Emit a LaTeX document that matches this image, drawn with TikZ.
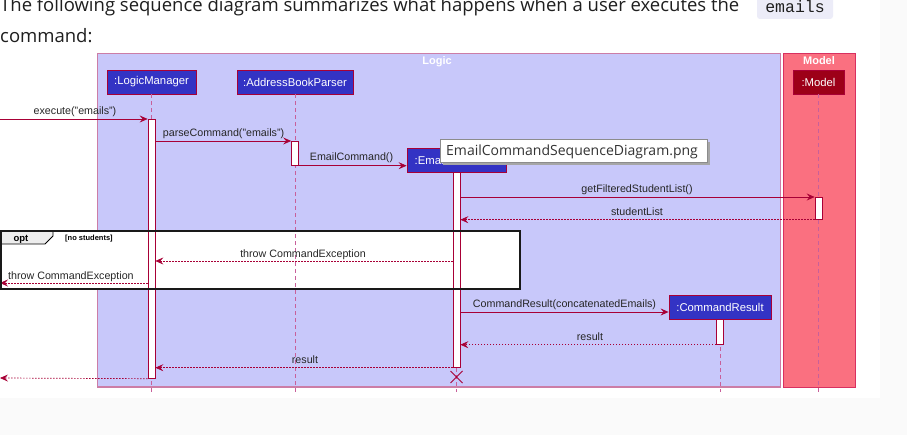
\documentclass[tikz,border=0pt]{standalone}
\usepackage{fontspec}
\setmainfont{Liberation Sans}
\newfontfamily\pagefont{Open Sans}
\newfontfamily\codefont{Liberation Mono}
\usetikzlibrary{arrows.meta}
\definecolor{logicbg}{HTML}{C8C8FA}
\definecolor{logicborder}{HTML}{CC7DA6}
\definecolor{modelbg}{HTML}{FA7080}
\definecolor{modelborder}{HTML}{D83060}
\definecolor{partblue}{HTML}{3333C4}
\definecolor{modeldark}{HTML}{9D0018}
\definecolor{crim}{HTML}{A80036}
\definecolor{lifecol}{HTML}{C8609A}
\definecolor{pagetext}{HTML}{1F1F1F}
\definecolor{codebg}{HTML}{ECECF8}
\tikzset{
  part/.style={draw=crim, line width=0.8pt, fill=partblue, text=white,
    font=\fontsize{11.3}{13}\selectfont, inner sep=0pt, minimum height=24pt},
  act/.style={draw=crim, fill=white, line width=0.7pt, minimum width=7pt, inner sep=0pt, anchor=north},
  lifeline/.style={draw=lifecol, line width=0.9pt, dash pattern=on 4pt off 3pt},
  msg/.style={draw=crim, line width=0.7pt, -{Stealth[length=8pt,width=7pt,inset=3pt]}},
  ret/.style={msg, dash pattern=on 1.5pt off 1.5pt},
  lbl/.style={font=\fontsize{10.7}{12}\selectfont, text=black!85, inner sep=0pt, anchor=base},
  pkgtitle/.style={font=\bfseries\fontsize{11}{12}\selectfont, text=white, inner sep=0pt, anchor=base},
}
\begin{document}
\begin{tikzpicture}[x=1pt,y=-1pt]
\useasboundingbox (0,0) rectangle (907,435);
% page background
\fill[black!2] (0,0) rectangle (907,435);
\fill[white] (0,0) rectangle (880,398);
% page text
\node[font=\pagefont\fontsize{18.5}{22}\selectfont, text=pagetext, anchor=base west, inner sep=0pt] (head1) at (0,12) {The following sequence diagram summarizes what happens when a user executes the};
\fill[codebg, rounded corners=3pt] (757,-6) rectangle (833,19);
\node[font=\codefont\fontsize{16.5}{18}\selectfont, text=pagetext, anchor=base, inner sep=0pt] (code) at (795,12.5) {emails};
\node[font=\pagefont\fontsize{18.5}{22}\selectfont, text=pagetext, anchor=base west, inner sep=0pt] (head2) at (0,42.5) {command:};
% packages
\filldraw[fill=logicbg, draw=logicborder, line width=1pt] (97,54) rectangle (780,387);
\draw[logicborder, line width=1.6pt] (97,387) -- (780,387);
\node[pkgtitle] (logictitle) at (437,65) {Logic};
\filldraw[fill=modelbg, draw=modelborder, line width=1pt] (783,54) rectangle (855,387);
\node[pkgtitle] (modeltitle) at (819,65) {Model};
% opt frame fill
\fill[white] (1,231) rectangle (520,289);
% participants
\node[part, minimum width=89pt] (lm) at (151.5,82) {:LogicManager};
\node[part, minimum width=116pt] (abp) at (295,82) {:AddressBookParser};
\node[part, minimum width=51pt, fill=modeldark] (mod) at (818.5,82) {:Model};
\node[part, minimum width=99pt] (ec) at (456.5,160) {:EmailCommand};
\node[part, minimum width=102pt] (cr) at (720,307) {:CommandResult};
% lifelines
\coordinate (lmend) at (151.5,392);
\coordinate (abpend) at (295,392);
\coordinate (modend) at (818.5,392);
\coordinate (ecend) at (456.5,392);
\coordinate (crend) at (720,392);
\draw[lifeline] (lm.south) -- (lmend);
\draw[lifeline] (abp.south) -- (abpend);
\draw[lifeline] (mod.south) -- (modend);
\draw[lifeline] (ec.south) -- (ecend);
\draw[lifeline] (cr.south) -- (crend);
% activations
\node[act, minimum height=259pt] (lmact) at (151.5,119) {};
\node[act, minimum height=24pt] (abpact) at (295,141) {};
\node[act, minimum height=195pt] (ecact) at (456.5,172) {};
\node[act, minimum height=22pt] (modact) at (818.5,197) {};
\node[act, minimum height=25pt] (cract) at (720,319) {};
% free ends
\coordinate (in1) at (0,119);
\coordinate (out1) at (0,283);
\coordinate (out2) at (0,378);
\coordinate (y197) at (0,197);
\coordinate (y261) at (0,261);
\coordinate (y312) at (0,312);
% messages
\draw[msg] (in1) -- (in1 -| lmact.west);
\node[lbl] (l1) at (75,115) {execute("emails")};
\draw[msg] (abpact.north west -| lmact.east) -- (abpact.north west);
\node[lbl] (l2) at (223.5,137) {parseCommand("emails")};
\draw[msg] (abpact.south east) -- (abpact.south east -| ec.west);
\node[lbl] (l3) at (351.5,161) {EmailCommand()};
\draw[msg] (y197 -| ecact.east) -- (modact.north west);
\node[lbl] (l4) at (637,193) {getFilteredStudentList()};
\draw[ret] (modact.south west) -- (modact.south west -| ecact.east);
\node[lbl] (l5) at (637,216) {studentList};
\draw[ret] (y261 -| ecact.west) -- (y261 -| lmact.east);
\node[lbl] (l6) at (303,258) {throw CommandException};
\draw[ret] (out1 -| lmact.west) -- (out1);
\node[lbl, anchor=base west] (l7) at (8,280) {throw CommandException};
\draw[msg] (y312 -| ecact.east) -- (y312 -| cr.west);
\node[lbl] (l8) at (564.5,308) {CommandResult(concatenatedEmails)};
\draw[ret] (cract.south west) -- (cract.south west -| ecact.east);
\node[lbl] (l9) at (590,341) {result};
\draw[ret] (ecact.south west) -- (ecact.south west -| lmact.east);
\node[lbl] (l10) at (305,363) {result};
\draw[ret] (lmact.south west) -- (out2);
% destruction
\draw[crim, line width=1pt] (450.5,371) -- (462.5,383) (450.5,383) -- (462.5,371);
% opt frame
\filldraw[fill=black!7, draw=black, line width=0.8pt] (1,231) -- (53,231) -- (53,236) -- (45,244) -- (1,244) -- cycle;
\node[font=\bfseries\fontsize{9.5}{10}\selectfont, anchor=base, inner sep=0pt] (optlbl) at (21,241.5) {opt};
\node[font=\bfseries\fontsize{7.5}{8}\selectfont, anchor=base west, inner sep=0pt] (guard) at (65,241) {[no students]};
\draw[black!90, line width=1.8pt] (1,231) rectangle (520,289);
% tooltip
\fill[black!35] (443,142) rectangle (710,165);
\filldraw[fill=white, draw=black!45, line width=0.8pt] (440,139) rectangle (707,162);
\node[font=\pagefont\fontsize{14}{16}\selectfont, text=black!80, anchor=base west, inner sep=0pt] (tip) at (446,156) {EmailCommandSequenceDiagram.png};
\end{tikzpicture}
\end{document}
